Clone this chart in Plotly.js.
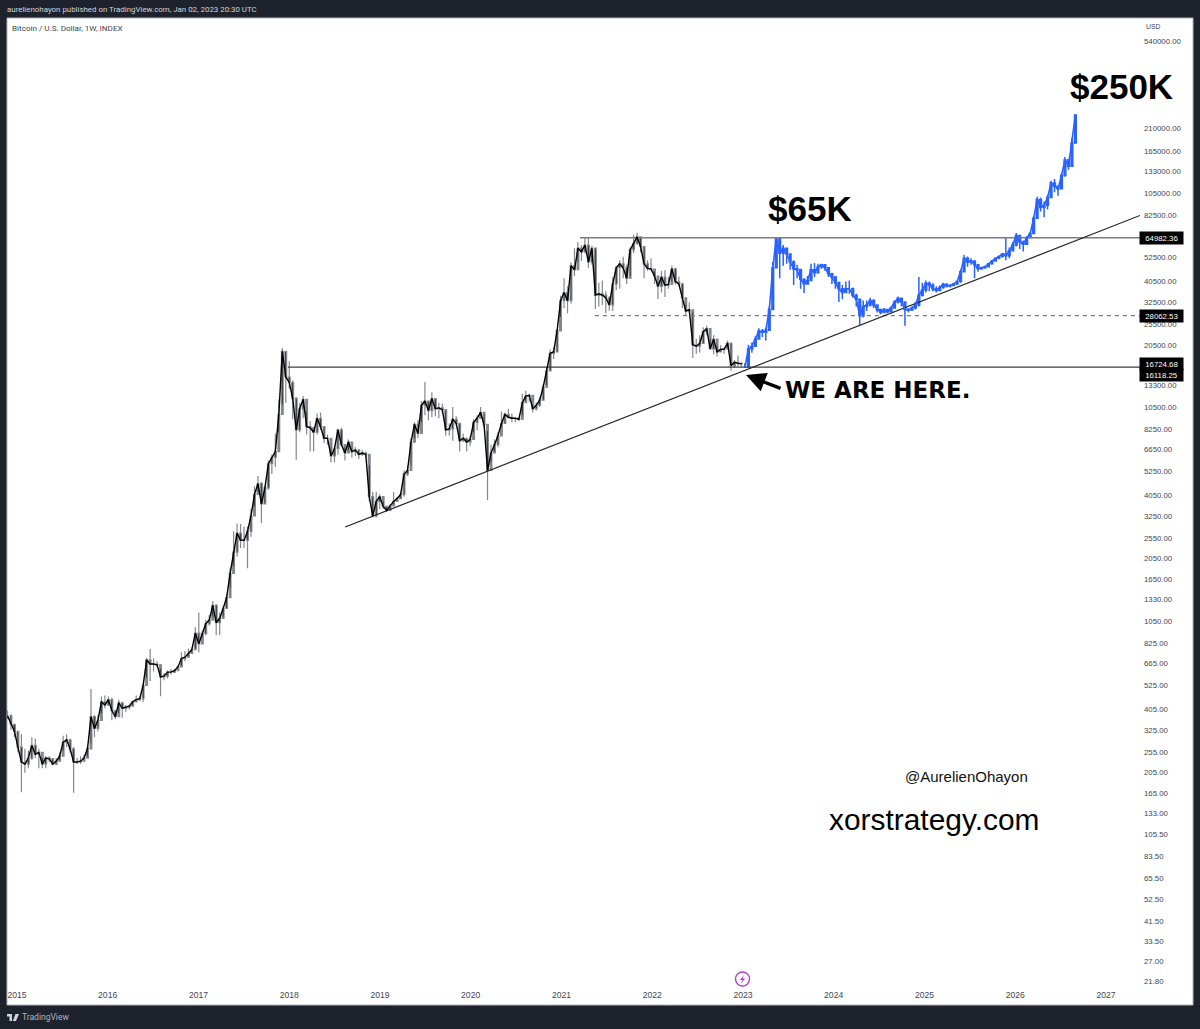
<!DOCTYPE html>
<html><head><meta charset="utf-8">
<script src="https://cdn.plot.ly/plotly-3.0.1.min.js"></script>
<style>html,body{margin:0;padding:0;background:#1e222d}#c{width:1200px;height:1029px}</style></head>
<body><div id="c"></div>
<script>
// Bitcoin history, one candle per two weeks, first candle 2014-11-24
const histClose = [378,345,320,270,230,225,240,275,250,255,225,240,238,225,232,245,285,292,265,230,230,232,240,265,375,330,360,440,425,
450,400,375,435,410,415,420,440,450,455,525,690,660,660,655,575,580,605,605,615,640,700,710,740,770,920,
820,915,1020,1060,1240,1030,1080,1200,1350,1750,2200,2700,2500,2500,2750,3250,4100,4600,3700,4400,5700,6100,6500,9700,19100,14500,
13700,11500,8200,10300,11400,8500,8400,8000,9300,8500,7500,7500,6200,6700,8200,7000,6400,7200,6500,6600,6300,6400,6300,4000,3250,3800,
4000,3600,3450,3620,3800,3920,4090,5100,5300,7200,8700,7900,10700,11200,10100,11500,10300,10400,10200,8200,8300,9200,8800,7300,7500,7200,
7400,8900,9300,9900,8700,5300,6400,7000,7700,8800,9700,9400,9300,9300,9200,11000,11800,11900,10300,10700,11300,13000,15500,18700,19000,23800,
33000,36000,33000,48000,46000,58000,55800,60000,50000,58000,35000,35500,35000,34000,31500,39500,47000,49000,47000,42000,57000,61000,65500,59000,49000,46700,
46300,43000,38500,42500,39000,39300,46500,40500,39500,34000,29500,29900,20500,20200,20800,23600,24400,19600,21800,19000,19500,19600,20900,16400,17000,16800,16724];
const histHigh = [400,385,345,320,310,265,260,300,295,265,240,245,245,240,240,255,305,310,295,270,240,245,248,275,504,380,380,465,470,
465,460,400,450,440,425,425,445,470,465,535,705,776,700,680,630,600,615,625,625,650,750,760,780,790,980,
1150,945,1060,1120,1300,1260,1150,1230,1400,1850,2760,3000,2980,2900,2900,3500,4480,5000,4700,4500,5900,6300,7900,11400,19800,19000,
17200,14000,11700,11000,11800,10000,9000,8200,9800,9900,8500,7800,6800,6900,8300,8400,6800,7400,6700,6800,6700,6600,6500,5600,4200,4200,
4100,3800,3600,3700,4200,4000,4200,5300,5600,7500,8900,9100,11200,13740,11100,12300,11500,11000,10900,10100,8800,10500,9500,8800,7900,7500,
7700,9200,9600,10500,9700,8100,7000,7400,8000,10000,9900,10300,9800,9400,9400,12100,12500,12100,10700,11000,11700,13400,16000,19500,19900,24300,
34800,42000,38500,49700,58000,61800,60000,64900,64900,59500,58000,40000,41000,36500,34600,42500,48000,51000,52900,48500,58500,67000,68500,66000,59000,51000,
52000,45000,39000,45500,45800,42500,48200,47000,42800,40000,31500,32400,29000,21800,22700,24800,25200,21800,22700,20300,20400,19700,21500,21000,17400,18300,17000];
const histLow = [365,325,300,255,166,205,215,235,240,215,215,215,230,222,222,235,260,270,255,165,225,225,235,245,280,300,320,390,410,
420,360,365,390,370,395,405,420,435,445,440,570,550,610,640,467,555,565,590,600,630,650,680,720,750,780,
750,880,900,1000,1100,900,900,1100,1200,1500,1900,2100,2300,2300,1850,2600,3600,4200,3013,3700,4300,5100,5500,8000,10800,11000,
12800,9200,5930,8000,9300,7800,6500,6500,7800,8200,7100,7000,5800,5800,6300,6900,5900,6600,6100,6200,6000,6200,6100,3800,3200,3200,
3500,3500,3400,3450,3700,3800,3950,4000,5000,5600,7500,7500,8900,9600,9100,9400,9500,9300,9800,7700,7700,7300,8600,6500,7200,6500,
6900,8000,8200,9500,8400,3855,5800,6500,6800,8500,8800,9300,8900,8900,9000,9600,11200,11100,9900,10100,10500,11300,13300,15600,17600,19000,
27700,30400,28800,32000,43000,50000,50500,55000,47000,48500,30130,31000,31500,28800,29600,29500,37000,37500,42000,39500,43000,55000,60000,55500,42000,45500,
45700,39500,33570,36000,34300,37500,40500,39200,38500,30500,28000,28700,17800,18600,18900,20700,22700,19500,18500,18100,18900,18600,20000,15500,16000,16300,16200];

// Projected path, one candle per two weeks, first candle 2023-01-09
const projClose = [16140,19600,20200,21800,23800,23500,24000,30000,47000,64000,55000,58000,54500,50000,46500,46000,41500,39500,41000,46000,44500,47500,48500,47000,44000,42500,40000,37500,36000,37500,37500,35000,33500,28000,31000,31500,33000,31500,30000,29000,30000,29300,30500,32500,33800,32500,30000,29800,30500,31500,35000,37000,39800,39000,37500,36800,38000,39400,38600,38800,39500,40500,45000,52000,50000,50500,48500,46500,47000,47500,49000,50500,52000,53000,54500,53500,56500,60000,66500,62000,60500,65000,68000,80000,98000,90000,92000,100000,117000,113000,110000,127000,150000,140000,180000,243000];
const projHigh = [16800,20500,21000,22500,24500,24300,24500,31000,50000,65400,65000,60000,58000,55000,51000,48500,46500,42000,43000,49000,49500,49000,49000,48500,47000,44500,43000,40500,39000,40500,41000,38000,35500,33500,33000,33000,34000,33500,31500,30200,30500,30200,31000,33000,34500,34000,32500,30500,31000,32500,42500,40000,41000,40500,39800,38500,38800,40000,39800,39300,40000,41000,46000,54000,53000,52000,51000,49000,47500,48000,49500,51000,52500,53500,55000,65000,58500,62000,68300,66500,63000,66000,69000,82000,101000,100000,96000,103000,120000,122000,114000,130000,155000,152000,190000,245000];
const projLow = [16000,16100,18800,20000,21800,22300,21500,24000,30000,47000,42000,48000,49000,46000,39000,42000,37500,35800,39500,41000,42500,45000,46500,45500,42500,39500,37500,32500,33500,36000,35500,34000,31000,25400,27500,29500,31000,30500,29000,28500,29000,28800,29000,30500,32000,31000,25200,29000,29500,30000,31000,34500,36000,36500,36500,36000,36500,37500,38000,38000,38500,39000,40000,45000,47500,48500,42000,45000,46000,46500,47500,48500,50500,51500,52500,51000,52000,56000,59000,57500,56000,60000,64500,68000,80000,86000,81000,88000,100000,106000,102000,110000,125000,135000,140000,180000];

const priceTicks = [540000,210000,165000,133000,105000,82500,52500,40500,32500,25500,20500,13300,10500,8250,6650,5250,4050,3250,2550,2050,1650,1330,1050,825,665,525,405,325,255,205,165,133,105.5,83.5,65.5,52.5,41.5,33.5,27,21.8];
const yearTicks = [2015,2016,2017,2018,2019,2020,2021,2022,2023,2024,2025,2026,2027];

const topLevel = 64982.36, midLevel = 28062.53, upperLabel = 16724.68, supportLevel = 16118.25;
const trendDates = ['2018-08-14','2027-05-18'], trendPrices = [2884,82500];

function candleDates(startIso, n){
  const out=[]; const t0=Date.parse(startIso+'T00:00:00Z');
  for(let i=0;i<n;i++) out.push(new Date(t0+i*14*864e5).toISOString().slice(0,10));
  return out;
}
function opens(c){ return c.map((v,i)=> i? c[i-1] : v); }
const histDates = candleDates('2014-11-24', histClose.length);
const projDates = candleDates('2023-01-09', projClose.length);

const WICK='#85878f', BLUE='#2962ff', SANS='"Liberation Sans",Arial,sans-serif', UI='Roboto,"Liberation Sans",sans-serif';
const L=7,R=1140,T=18,B=988;
const px=x=>(x-L)/(R-L), py=y=>(B-y)/(B-T);

function candle(x,c,h,l,wick,fill,w){
  return {type:'candlestick',x:x,open:opens(c),high:h,low:l,close:c,hoverinfo:'skip',showlegend:false,whiskerwidth:0,
    increasing:{line:{color:wick,width:w},fillcolor:fill},decreasing:{line:{color:wick,width:w},fillcolor:fill}};
}
function path(x,y,color,w){ return {type:'scatter',mode:'lines',x:x,y:y,line:{color:color,width:w},hoverinfo:'skip',showlegend:false}; }
function level(start,val,dash,color,w){
  const t=path([start,'2027-05-18'],[val,val],color,w); if(dash) t.line.dash=dash; return t;
}
const traces=[
  level('2021-03-16',topLevel,null,'#787b83',1.5),
  level('2021-05-15',midLevel,'4px 4px','#787b83',1.3),
  level('2017-12-27',supportLevel,null,'#3a3d45',1.2),
  path(trendDates,trendPrices,'#222',1.2),
  candle(histDates,histClose,histHigh,histLow,WICK,'#000',1.2),
  path(histDates,histClose,'#000',1.4),
  candle(projDates,projClose,projHigh,projLow,BLUE,BLUE,1.5),
  path(projDates,projClose,BLUE,1.6)
];

function text(x,y,t,size,color,opts){
  return Object.assign({xref:'paper',yref:'paper',x:px(x),y:py(y),text:t,showarrow:false,xanchor:'left',yanchor:'middle',
    font:{family:SANS,size:size,color:color}},opts||{});
}
function priceBox(val,shift){
  return {xref:'paper',yref:'y',x:1,y:Math.log10(val),xshift:-1,yshift:shift,text:val.toFixed(2),showarrow:false,xanchor:'left',yanchor:'middle',align:'center',
    width:41,height:10,bgcolor:'#000',borderpad:1,font:{family:SANS,size:7.8,color:'#fff'}};
}
const annotations=[
  text(5,9,'aurelienohayon published on TradingView.com, Jan 02, 2023 20:30 UTC',7.9,'#d1d4dc',{font:{family:UI,size:7.9,color:'#d1d4dc'}}),
  text(10,28,'Bitcoin / U.S. Dollar, 1W, INDEX',8.1,'#434651',{font:{family:UI,size:8.1,color:'#434651'}}),
  text(1144,27,'USD',6.8,'#434651'),
  text(20,1017,'TradingView',8.5,'#b2b5be',{font:{family:UI,size:8.5,color:'#b2b5be'}}),
  text(1121,87,'$250K',35,'#000',{xanchor:'center',font:{family:SANS,size:35,color:'#000',weight:700}}),
  text(809.5,209,'$65K',35,'#000',{xanchor:'center',font:{family:SANS,size:35,color:'#000',weight:700}}),
  text(783,390,'WE ARE HERE.',23,'#000',{font:{family:'"DejaVu Sans"',size:23,color:'#000',weight:700}}),
  text(903,776,'@AurelienOhayon',15,'#111'),
  text(827,819,'xorstrategy.com',29.9,'#000'),
  {xref:'paper',yref:'paper',x:px(746),y:py(375),axref:'pixel',ayref:'pixel',ax:36,ay:14,text:'',showarrow:true,arrowhead:2,arrowsize:1.15,arrowwidth:3.4,arrowcolor:'#000'},
  priceBox(topLevel,0),priceBox(midLevel,0),priceBox(upperLabel,0),priceBox(supportLevel,-8)
];
const shapes=[
  {type:'rect',layer:'below',xref:'paper',yref:'paper',x0:px(7),x1:px(1193),y0:py(18),y1:py(1005),fillcolor:'#fff',line:{color:'#b2b5be',width:1}},
  {type:'circle',layer:'above',xref:'paper',yref:'paper',x0:px(735.5),x1:px(749.5),y0:py(972),y1:py(986),fillcolor:'rgba(0,0,0,0)',line:{color:'#ba3fd0',width:1.4}},
  {type:'path',layer:'above',xref:'paper',yref:'paper',
   path:`M ${px(744)} ${py(975)} L ${px(739.8)} ${py(980)} L ${px(742.4)} ${py(980)} L ${px(741)} ${py(983.5)} L ${px(745.2)} ${py(978.5)} L ${px(742.6)} ${py(978.5)} Z`,fillcolor:'#ba3fd0',line:{width:0}},
  {type:'path',layer:'above',xref:'paper',yref:'paper',
   path:`M ${px(7)} ${py(1014)} L ${px(12)} ${py(1014)} L ${px(12)} ${py(1021)} L ${px(9.5)} ${py(1021)} L ${px(9.5)} ${py(1016.5)} L ${px(7)} ${py(1016.5)} Z M ${px(15.5)} ${py(1014)} L ${px(19)} ${py(1014)} L ${px(16)} ${py(1021)} L ${px(12.8)} ${py(1021)} Z`,fillcolor:'#d1d4dc',line:{width:0}}
];
const layout={
  width:1200,height:1029,margin:{l:L,r:1200-R,t:T,b:1029-B,pad:0},autosize:false,showlegend:false,
  paper_bgcolor:'#1e222d',plot_bgcolor:'rgba(0,0,0,0)',
  font:{family:SANS,size:7.8,color:'#434651'},
  xaxis:{type:'date',range:['2014-11-22','2027-05-18'],rangeslider:{visible:false},showgrid:false,zeroline:false,showline:false,ticks:'',
    tickmode:'array',tickvals:yearTicks.map(y=>y+'-01-01'),ticktext:yearTicks.map(String),tickfont:{family:SANS,size:8.6,color:'#434651'},fixedrange:true},
  yaxis:{type:'log',side:'right',range:[1.3053,5.8395],showgrid:false,zeroline:false,showline:false,ticks:'',
    tickmode:'array',tickvals:priceTicks,ticktext:priceTicks.map(v=>v.toFixed(2)),tickfont:{family:SANS,size:7.8,color:'#434651'},ticklabelstandoff:3,fixedrange:true},
  shapes:shapes,annotations:annotations
};
Plotly.newPlot('c',traces,layout,{staticPlot:true,displayModeBar:false});
</script></body></html>
